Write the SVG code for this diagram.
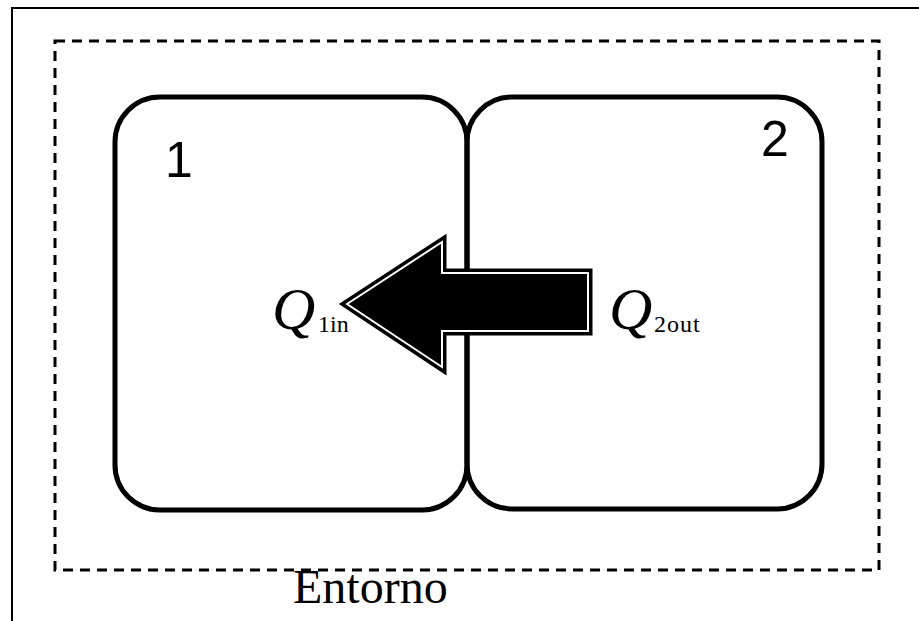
<svg xmlns="http://www.w3.org/2000/svg" width="919" height="621" viewBox="0 0 919 621">
<style>
.box{fill:none;stroke:#000;stroke-width:5}
.num{font-family:"Liberation Sans",Arial,sans-serif;font-size:50px;fill:#000}
.q{font-family:"Liberation Serif","Times New Roman",serif;font-style:italic;font-size:60px;fill:#000}
.sub{font-family:"Liberation Serif","Times New Roman",serif;font-size:24px;fill:#000}
</style>
<rect x="0" y="0" width="919" height="621" fill="#fff"/>
<rect id="frame" x="12" y="8" width="930" height="640" fill="none" stroke="#000" stroke-width="2"/>
<g id="entorno">
<rect x="55" y="41" width="824" height="529" fill="none" stroke="#000" stroke-width="3" stroke-dasharray="10 7"/>
<text x="293" y="603" font-family="'Liberation Serif','Times New Roman',serif" font-size="48" fill="#000">Entorno</text>
</g>
<g id="system1">
<rect class="box" x="115" y="97" width="352" height="413" rx="45" ry="45"/>
<text class="num" x="165" y="177">1</text>
</g>
<g id="system2">
<rect class="box" x="467" y="97" width="355" height="412" rx="45" ry="45"/>
<text class="num" x="761" y="156">2</text>
</g>
<g id="connectors">
<polygon points="347,304 442,242 442,273 588,273 588,331 442,331 442,367" fill="#000" stroke="#000" stroke-width="9" stroke-linejoin="miter"/>
<polygon points="347,304 442,242 442,273 588,273 588,331 442,331 442,367" fill="none" stroke="#fff" stroke-width="2" stroke-linejoin="miter"/>
</g>
<g id="labels">
<text class="q" x="272" y="329">Q</text>
<text class="sub" x="318" y="332">1in</text>
<text class="q" x="609" y="329">Q</text>
<text class="sub" x="654" y="332" letter-spacing="1">2out</text>
</g>
</svg>
